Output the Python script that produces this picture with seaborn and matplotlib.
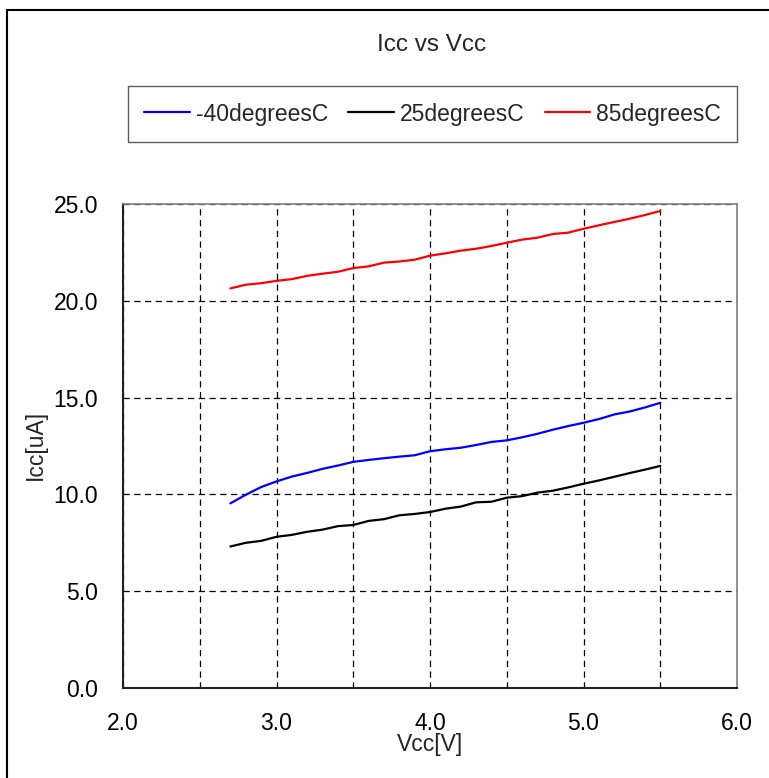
import numpy as np
import pandas as pd
import seaborn as sns
import matplotlib.pyplot as plt
from matplotlib.lines import Line2D
from matplotlib.ticker import MultipleLocator

vcc = [2.7, 2.8, 2.9, 3.0, 3.1, 3.2, 3.3, 3.4, 3.5, 3.6, 3.7, 3.8, 3.9, 4.0, 4.1,
       4.2, 4.3, 4.4, 4.5, 4.6, 4.7, 4.8, 4.9, 5.0, 5.1, 5.2, 5.3, 5.4, 5.5]
icc_m40 = [9.54, 9.98, 10.38, 10.67, 10.92, 11.11, 11.32, 11.49, 11.68, 11.78, 11.87, 11.95,
           12.02, 12.23, 12.33, 12.41, 12.55, 12.71, 12.79, 12.95, 13.13, 13.34, 13.53, 13.70,
           13.89, 14.13, 14.28, 14.49, 14.73]
icc_25 = [7.31, 7.50, 7.60, 7.81, 7.91, 8.07, 8.18, 8.36, 8.42, 8.63, 8.72, 8.92, 8.99, 9.09,
          9.26, 9.37, 9.59, 9.62, 9.83, 9.91, 10.09, 10.19, 10.36, 10.55, 10.72, 10.91, 11.10,
          11.28, 11.47]
icc_85 = [20.64, 20.83, 20.91, 21.03, 21.12, 21.29, 21.40, 21.50, 21.69, 21.78, 21.97, 22.03,
          22.12, 22.33, 22.45, 22.59, 22.69, 22.83, 23.00, 23.16, 23.26, 23.45, 23.52, 23.72,
          23.90, 24.07, 24.24, 24.43, 24.64]
series_names = ['-40degreesC', '25degreesC', '85degreesC']
series_colors = ['#0000ff', '#000000', '#ff0000']

df = pd.concat([
    pd.DataFrame({'Vcc': vcc, 'Icc': vals, 'temp': name})
    for name, vals in zip(series_names, [icc_m40, icc_25, icc_85])
])

sns.set_style('white')
plt.rcParams['font.family'] = ['Liberation Sans', 'DejaVu Sans']

W, H = 769, 778
FS = 16.5
fig = plt.figure(figsize=(W / 100, H / 100), dpi=100)
ax = fig.add_axes([123 / W, 1 - 688 / H, (737 - 123) / W, (688 - 204) / H])

sns.lineplot(data=df, x='Vcc', y='Icc', hue='temp', palette=series_colors,
             linewidth=1.6, ax=ax, legend=False)

ax.set_xlim(2.0, 6.0)
ax.set_ylim(0, 25)
ax.xaxis.set_major_locator(MultipleLocator(1.0))
ax.xaxis.set_minor_locator(MultipleLocator(0.5))
ax.yaxis.set_major_locator(MultipleLocator(5.0))
ax.set_xticklabels([f'{v:.1f}' for v in ax.get_xticks()])
ax.set_yticklabels([f'{v:.1f}' for v in ax.get_yticks()])
dash = (0, (5, 3.6))
ax.grid(True, which='both', axis='x', color='black', linestyle=dash, linewidth=0.9)
ax.grid(True, which='major', axis='y', color='black', linestyle=dash, linewidth=0.9)
ax.tick_params(axis='x', which='both', direction='in', length=5, labelsize=FS, pad=17, colors='black')
ax.tick_params(axis='y', length=0, labelsize=FS, pad=18, colors='black')

for side in ['top', 'right']:
    ax.spines[side].set_color('#808080')
    ax.spines[side].set_linewidth(1.2)
for side in ['left', 'bottom']:
    ax.spines[side].set_color('#222222')
    ax.spines[side].set_linewidth(1.5)

ax.set_xlabel('Vcc[V]', fontsize=FS)
ax.set_ylabel('Icc[uA]', fontsize=FS)
ax.xaxis.set_label_coords(0.5, (688 - 745) / 484, transform=ax.transAxes)
ax.xaxis.label.set_va('center')
ax.yaxis.set_label_coords((35 - 123) / 614, 0.502, transform=ax.transAxes)
ax.yaxis.label.set_va('center')

fig.text(432 / W, 1 - 45 / H, 'Icc vs Vcc', ha='center', va='center', fontsize=17.5)

handles = [Line2D([0], [0], color=c, linewidth=1.6) for c in series_colors]
leg = fig.legend(handles, series_names, loc='center', ncol=3, mode='expand',
                 bbox_to_anchor=(128 / W, 1 - 140 / H, (737 - 128) / W, 52 / H),
                 frameon=True, fancybox=False, fontsize=FS, handlelength=2.0,
                 handletextpad=0.25, borderaxespad=0, borderpad=0.7)
leg.get_frame().set_edgecolor('#333333')
leg.get_frame().set_linewidth(1.0)

# outer chart frame (top and left edges visible)
fig.add_artist(Line2D([7 / W, 1.0], [1 - 10 / H, 1 - 10 / H], transform=fig.transFigure,
                      color='black', linewidth=1.5))
fig.add_artist(Line2D([7 / W, 7 / W], [0.0, 1 - 10 / H], transform=fig.transFigure,
                      color='black', linewidth=1.5))

fig.savefig('out.png', dpi=100)
